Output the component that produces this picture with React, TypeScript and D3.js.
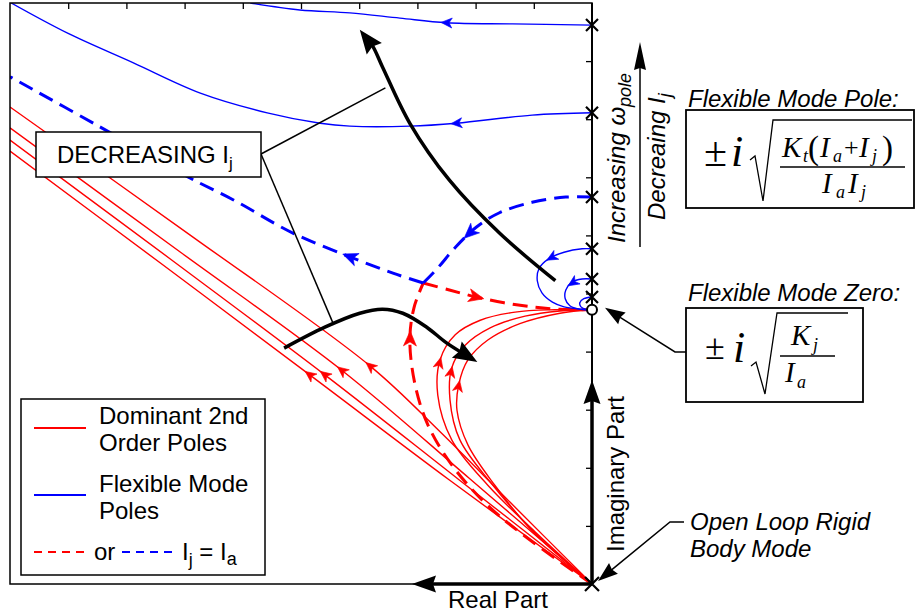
import React, { useEffect, useRef } from "react";
import * as d3 from "d3";

type Pt = [number, number];

// ---------- axes (real part: negative, imaginary part: positive) ----------
const realTicks = [-9, -8, -7, -6, -5, -4, -3, -2, -1];
const imagTicks = [1, 2, 3, 4, 5, 6, 7, 8, 9];

// open-loop poles on the imaginary axis (flexible mode for several Ij) and rigid body pole
const flexPoles = [9.62, 8.11, 6.66, 5.77, 5.25, 4.94];
const rigidPole = 0;
const flexZero = 4.72;

// ---------- dominant 2nd order pole branches (red) ----------
const domToAsymptote: Pt[][] = [
  [[0, 0], [-1.41, 1.41], [-2.61, 2.62], [-3.81, 3.75], [-6.91, 6.01], [-10, 8.21]],
  [[0, 0], [-2.11, 1.82], [-4.3, 3.68], [-7.07, 5.71], [-10, 7.85]],
  [[0, 0], [-2.28, 1.79], [-4.59, 3.6], [-7.24, 5.59], [-10, 7.64]],
  [[0, 0], [-2.45, 1.79], [-4.85, 3.6], [-7.41, 5.52], [-10, 7.45]],
];
const domToAsymptoteArrows: Pt[] = [[-3.81, 3.75], [-4.3, 3.68], [-4.59, 3.6], [-4.85, 3.6]];

const domToZero: Pt[][] = [
  [[0, 0], [-0.98, 0.9], [-1.79, 1.7], [-2.41, 2.48], [-2.65, 3.25], [-2.61, 3.86], [-2.35, 4.29], [-1.92, 4.54], [-1.32, 4.68], [-0.64, 4.72], [0, 4.72]],
  [[0, 0], [-1.03, 0.93], [-1.72, 1.72], [-2.27, 2.48], [-2.44, 3.17], [-2.41, 3.72], [-2.18, 4.11], [-1.75, 4.41], [-1.15, 4.61], [-0.55, 4.7], [0, 4.72]],
  [[0, 0], [-1.07, 0.96], [-1.67, 1.7], [-2.13, 2.39], [-2.32, 2.99], [-2.29, 3.43], [-2.13, 3.86], [-1.79, 4.2], [-1.24, 4.48], [-0.55, 4.66], [0, 4.72]],
];
const domToZeroArrows: Pt[] = [[-2.6, 3.8], [-2.4, 3.65], [-2.25, 3.4]];

// Ij = Ia case (dashed)
const domEqualUp: Pt[] = [[0, 0], [-1.07, 0.76], [-1.8, 1.36], [-2.41, 2.05], [-2.82, 2.74], [-3.04, 3.43], [-3.13, 4.2], [-3.06, 4.75], [-2.9, 5.18]];
const domEqualUpArrow: Pt = [-3.13, 4.23];
const domEqualToZero: Pt[] = [[-2.9, 5.18], [-2.45, 5.06], [-1.99, 4.94], [-1.51, 4.84], [-1.03, 4.77], [-0.57, 4.73], [0, 4.72]];
const domEqualToZeroArrow: Pt = [-1.99, 4.94];

// ---------- flexible mode pole branches (blue) ----------
const flexToAsymptote: Pt[][] = [
  [[0, 9.62], [-1.37, 9.64], [-2.5, 9.66], [-3.3, 9.74], [-4.16, 9.83], [-5.02, 9.88], [-5.87, 10.0]],
  [[0, 8.11], [-1.03, 8.07], [-2.33, 7.93], [-3.13, 7.88], [-4.16, 7.88], [-4.67, 7.93], [-5.58, 8.11], [-6.73, 8.45], [-7.88, 8.97], [-9.01, 9.48], [-9.98, 10.0]],
];
const flexToAsymptoteArrows: Pt[] = [[-2.5, 9.66], [-2.33, 7.93]];

const flexToZero: Pt[][] = [
  [[0, 5.77], [-0.17, 5.77], [-0.48, 5.71], [-0.74, 5.6], [-0.91, 5.43], [-0.94, 5.22], [-0.86, 5.01], [-0.68, 4.85], [-0.48, 4.77], [-0.17, 4.73], [-0.05, 4.72]],
  [[0, 5.25], [-0.17, 5.25], [-0.34, 5.2], [-0.45, 5.06], [-0.46, 4.91], [-0.38, 4.79], [-0.22, 4.73], [-0.05, 4.72]],
  [[0, 4.94], [-0.14, 4.91], [-0.21, 4.84], [-0.19, 4.77], [-0.09, 4.72]],
];
const flexToZeroArrows: (Pt | null)[] = [[-0.7, 5.63], [-0.34, 5.2], null];

const flexEqualArc: Pt[] = [[0, 6.66], [-0.45, 6.66], [-1.03, 6.57], [-1.59, 6.39], [-1.99, 6.14], [-2.36, 5.78], [-2.65, 5.44], [-2.9, 5.18]];
const flexEqualArcArrow: Pt = [-2.11, 6.05];
const flexEqualOut: Pt[] = [[-2.9, 5.18], [-3.42, 5.35], [-4.16, 5.63], [-5.14, 6.04], [-6.16, 6.61], [-6.95, 7.01], [-8.44, 7.86], [-10, 8.73]];
const flexEqualOutArrow: Pt = [-4.16, 5.63];

// ---------- annotation arrows (decreasing Ij) ----------
const trendLowArrow: Pt[] = [[-5.29, 4.06], [-4.59, 4.42], [-3.99, 4.66], [-3.6, 4.73], [-3.25, 4.66], [-2.84, 4.42], [-2.5, 4.15], [-1.97, 3.82]];
const trendHighArrow: Pt[] = [[-0.63, 5.22], [-1.59, 6.04], [-2.45, 6.95], [-3.13, 7.93], [-3.6, 8.9], [-3.78, 9.28], [-3.99, 9.54]];

const RED = "#ff0000";
const BLUE = "#0000ff";
const SANS = "'Liberation Sans', Arial, Helvetica, sans-serif";
const SERIF = "'Liberation Serif', 'Times New Roman', serif";

type Head = { len: number; hw: number; notch: number };
const headPath = (h: Head) => `M0,0L${-h.len},${-h.hw}L${-h.len + h.notch},0L${-h.len},${h.hw}Z`;

export default function App() {
  const ref = useRef<SVGSVGElement>(null);

  useEffect(() => {
    const svg = d3.select(ref.current as SVGSVGElement);
    svg.selectAll("*").remove();

    const x = d3.scaleLinear().domain([-10, 0]).range([10, 592]);
    const y = d3.scaleLinear().domain([0, 10]).range([584, 3]);
    const line = d3
      .line<Pt>()
      .x((d) => x(d[0]))
      .y((d) => y(d[1]))
      .curve(d3.curveCatmullRom.alpha(0.5));

    const g = svg.append("g");
    const plot = g.append("g");
    const clipId = "plotclip";
    svg
      .append("defs")
      .append("clipPath")
      .attr("id", clipId)
      .append("rect")
      .attr("x", x(-10))
      .attr("y", y(10))
      .attr("width", x(0) - x(-10))
      .attr("height", y(0) - y(10));
    plot.attr("clip-path", `url(#${clipId})`);

    const small: Head = { len: 11, hw: 5, notch: 3 };
    const mid: Head = { len: 15, hw: 6.5, notch: 4 };
    const big: Head = { len: 24, hw: 9.5, notch: 3 };

    const drawArrowOn = (node: SVGPathElement, target: Pt, color: string, head: Head) => {
      const L = node.getTotalLength();
      const tx = x(target[0]);
      const ty = y(target[1]);
      let best = 0;
      let bd = Infinity;
      for (let s = 0; s <= L; s += 0.5) {
        const q = node.getPointAtLength(s);
        const d = (q.x - tx) ** 2 + (q.y - ty) ** 2;
        if (d < bd) {
          bd = d;
          best = s;
        }
      }
      const s = Math.min(L, best + head.len / 2);
      const tip = node.getPointAtLength(s);
      const back = node.getPointAtLength(Math.max(0, s - head.len));
      const ang = (Math.atan2(tip.y - back.y, tip.x - back.x) * 180) / Math.PI;
      g.append("path")
        .attr("d", headPath(head))
        .attr("transform", `translate(${tip.x},${tip.y}) rotate(${ang})`)
        .attr("fill", color)
        .attr("stroke", color)
        .attr("stroke-width", 0.6)
        .attr("stroke-linejoin", "miter");
    };

    const curve = (pts: Pt[], color: string, width: number, dash: string | null, arrows: (Pt | null)[], head: Head) => {
      const p = plot
        .append("path")
        .attr("d", line(pts) as string)
        .attr("fill", "none")
        .attr("stroke", color)
        .attr("stroke-width", width);
      if (dash) p.attr("stroke-dasharray", dash);
      const node = p.node() as SVGPathElement;
      arrows.forEach((a) => {
        if (a) drawArrowOn(node, a, color, head);
      });
    };

    // ---- frame & ticks ----
    g.append("rect")
      .attr("x", x(-10))
      .attr("y", y(10))
      .attr("width", x(0) - x(-10))
      .attr("height", y(0) - y(10))
      .attr("fill", "none")
      .attr("stroke", "#000")
      .attr("stroke-width", 1.5);

    const topAxis = g
      .append("g")
      .attr("transform", `translate(0,${y(10)})`)
      .call(d3.axisBottom(x).tickValues(realTicks).tickSize(6).tickFormat(() => ""));
    topAxis.select(".domain").remove();
    topAxis.selectAll("line").attr("stroke-width", 1.3);

    const rightAxis = g
      .append("g")
      .attr("transform", `translate(${x(0)},0)`)
      .call(d3.axisLeft(y).tickValues(imagTicks).tickSize(6).tickFormat(() => ""));
    rightAxis.select(".domain").remove();
    rightAxis.selectAll("line").attr("stroke-width", 1.3);

    g.append("line")
      .attr("x1", x(0))
      .attr("x2", x(0))
      .attr("y1", y(10))
      .attr("y2", y(0))
      .attr("stroke", "#000")
      .attr("stroke-width", 2);

    // ---- root locus branches ----
    domToAsymptote.forEach((b, i) => curve(b, RED, 1.4, null, [domToAsymptoteArrows[i]], small));
    domToZero.forEach((b, i) => curve(b, RED, 1.4, null, [domToZeroArrows[i]], small));
    curve(domEqualUp, RED, 3, "15,8", [domEqualUpArrow], mid);
    curve(domEqualToZero, RED, 3, "15,8", [domEqualToZeroArrow], mid);

    flexToAsymptote.forEach((b, i) => curve(b, BLUE, 1.4, null, [flexToAsymptoteArrows[i]], small));
    flexToZero.forEach((b, i) => curve(b, BLUE, 1.4, null, [flexToZeroArrows[i]], small));
    curve(flexEqualArc, BLUE, 3, "15,8", [flexEqualArcArrow], mid);
    curve(flexEqualOut, BLUE, 3, "15,8", [flexEqualOutArrow], mid);

    // ---- thick black trend arrows ----
    const thick = (pts: Pt[]) => {
      const p = g
        .append("path")
        .attr("d", line(pts) as string)
        .attr("fill", "none")
        .attr("stroke", "#000")
        .attr("stroke-width", 3.5);
      const node = p.node() as SVGPathElement;
      const L = node.getTotalLength();
      p.attr("stroke-dasharray", `${L - big.len * 0.7},${L}`);
      const tip = node.getPointAtLength(L);
      const back = node.getPointAtLength(L - big.len);
      const ang = (Math.atan2(tip.y - back.y, tip.x - back.x) * 180) / Math.PI;
      g.append("path")
        .attr("d", headPath(big))
        .attr("transform", `translate(${tip.x},${tip.y}) rotate(${ang})`)
        .attr("fill", "#000");
    };
    thick(trendLowArrow);
    thick(trendHighArrow);

    // ---- pole / zero markers ----
    const cross = (cx: number, cy: number, r: number) => {
      g.append("path")
        .attr("d", `M${cx - r},${cy - r}L${cx + r},${cy + r}M${cx - r},${cy + r}L${cx + r},${cy - r}`)
        .attr("stroke", "#000")
        .attr("stroke-width", 2.2)
        .attr("fill", "none");
    };
    flexPoles.forEach((p) => cross(x(0), y(p), 6));
    cross(x(0), y(rigidPole), 7);
    g.append("circle")
      .attr("cx", x(0))
      .attr("cy", y(flexZero))
      .attr("r", 5)
      .attr("fill", "#fff")
      .attr("stroke", "#000")
      .attr("stroke-width", 2);

    // ---- axis arrows ----
    const headAt = (tx: number, ty: number, ang: number, h: Head) =>
      g.append("path")
        .attr("d", headPath(h))
        .attr("transform", `translate(${tx},${ty}) rotate(${ang})`)
        .attr("fill", "#000");
    const axisHead: Head = { len: 24, hw: 8.5, notch: 3 };
    g.append("line").attr("x1", x(0)).attr("x2", 432).attr("y1", y(0)).attr("y2", y(0)).attr("stroke", "#000").attr("stroke-width", 3.5);
    headAt(412, y(0), 180, axisHead);
    g.append("line").attr("x1", x(0)).attr("x2", x(0)).attr("y1", y(0)).attr("y2", 400).attr("stroke", "#000").attr("stroke-width", 3.5);
    headAt(x(0), 380, -90, axisHead);

    const txt = (s: string, tx: number, ty: number, opts: { size?: number; italic?: boolean; anchor?: string; rotate?: number; family?: string } = {}) => {
      const t = g
        .append("text")
        .attr("x", 0)
        .attr("y", 0)
        .attr("transform", `translate(${tx},${ty})${opts.rotate ? ` rotate(${opts.rotate})` : ""}`)
        .attr("font-family", opts.family ?? SANS)
        .attr("font-size", opts.size ?? 24)
        .attr("text-anchor", opts.anchor ?? "start")
        .attr("fill", "#000");
      if (opts.italic) t.attr("font-style", "italic");
      t.text(s);
      return t;
    };

    txt("Real Part", 498, 608, { anchor: "middle" });
    txt("Imaginary Part", 624, 474, { anchor: "middle", rotate: -90 });

    // Increasing ω_pole / Decreaing I_j
    const inc = txt("Increasing ω", 625, 243, { italic: true, rotate: -90 });
    inc.append("tspan").attr("dy", 6).attr("font-size", 18).text("pole");
    const dec = txt("Decreaing I", 665, 220, { italic: true, rotate: -90 });
    dec.append("tspan").attr("dy", 6).attr("font-size", 18).text("j");
    g.append("line").attr("x1", 640).attr("x2", 640).attr("y1", 247).attr("y2", 66).attr("stroke", "#000").attr("stroke-width", 1.5);
    headAt(640, 42, -90, { len: 28, hw: 6, notch: 2 });

    // ---- DECREASING Ij callout ----
    const boxL = { x: 36, y: 132, w: 225, h: 45 };
    g.append("line").attr("x1", boxL.x + boxL.w).attr("y1", 154).attr("x2", x(-3.55)).attr("y2", y(8.54)).attr("stroke", "#000").attr("stroke-width", 1.5);
    g.append("line").attr("x1", boxL.x + boxL.w).attr("y1", 154).attr("x2", x(-4.45)).attr("y2", y(4.49)).attr("stroke", "#000").attr("stroke-width", 1.5);
    g.append("rect").attr("x", boxL.x).attr("y", boxL.y).attr("width", boxL.w).attr("height", boxL.h).attr("fill", "#fff").attr("stroke", "#000").attr("stroke-width", 1.5);
    const dt = txt("DECREASING I", 57, 163);
    dt.append("tspan").attr("dy", 6).attr("font-size", 17).text("j");

    // ---- legend ----
    g.append("rect").attr("x", 21).attr("y", 399).attr("width", 244).attr("height", 176).attr("fill", "#fff").attr("stroke", "#000").attr("stroke-width", 1.5);
    g.append("line").attr("x1", 34).attr("x2", 86).attr("y1", 428).attr("y2", 428).attr("stroke", RED).attr("stroke-width", 2);
    txt("Dominant 2nd", 99, 424);
    txt("Order Poles", 99, 451);
    g.append("line").attr("x1", 34).attr("x2", 86).attr("y1", 495).attr("y2", 495).attr("stroke", BLUE).attr("stroke-width", 2);
    txt("Flexible Mode", 99, 492);
    txt("Poles", 99, 519);
    g.append("line").attr("x1", 34).attr("x2", 86).attr("y1", 552).attr("y2", 552).attr("stroke", RED).attr("stroke-width", 2).attr("stroke-dasharray", "8,6");
    txt("or", 94, 560);
    g.append("line").attr("x1", 122).attr("x2", 174).attr("y1", 552).attr("y2", 552).attr("stroke", BLUE).attr("stroke-width", 2).attr("stroke-dasharray", "8,6");
    const eq = txt("I", 182, 560);
    eq.append("tspan").attr("dy", 6).attr("font-size", 18).text("j");
    eq.append("tspan").attr("dy", -6).text(" = I");
    eq.append("tspan").attr("dy", 5).attr("font-size", 18).text("a");

    // ---- Flexible mode pole formula ----
    txt("Flexible Mode Pole:", 688, 107, { italic: true });
    g.append("rect").attr("x", 686).attr("y", 110).attr("width", 228).attr("height", 98).attr("fill", "#fff").attr("stroke", "#000").attr("stroke-width", 1.8);
    txt("±", 704, 166, { family: SERIF, size: 42 });
    txt("i", 731, 166, { family: SERIF, size: 44, italic: true });
    g.append("path").attr("d", "M750,160L755,156L763,201L773,120L912,120").attr("fill", "none").attr("stroke", "#000").attr("stroke-width", 1.3);
    g.append("line").attr("x1", 780).attr("x2", 905).attr("y1", 167).attr("y2", 167).attr("stroke", "#000").attr("stroke-width", 1.3);
    const sv = (s: string, tx: number, ty: number, size: number, italic: boolean) =>
      txt(s, tx, ty, { family: SERIF, size, italic });
    sv("K", 782, 157, 29, true);
    sv("t", 803, 162, 18, true);
    sv("(", 808, 159, 33, false);
    sv("I", 820, 157, 29, true);
    sv("a", 833, 162, 18, true);
    sv("+", 844, 156, 26, false);
    sv("I", 859, 157, 29, true);
    sv("j", 872, 162, 18, true);
    sv(")", 882, 159, 33, false);
    sv("I", 822, 193, 29, true);
    sv("a", 836, 198, 18, true);
    sv("I", 848, 193, 29, true);
    sv("j", 861, 198, 18, true);

    // ---- Flexible mode zero formula ----
    txt("Flexible Mode Zero:", 688, 301, { italic: true });
    g.append("rect").attr("x", 686).attr("y", 308).attr("width", 177).attr("height", 94).attr("fill", "#fff").attr("stroke", "#000").attr("stroke-width", 1.8);
    txt("±", 705, 359, { family: SERIF, size: 36 });
    txt("i", 733, 362, { family: SERIF, size: 44, italic: true });
    g.append("path").attr("d", "M751,366L756,362L765,394L777,313L848,313").attr("fill", "none").attr("stroke", "#000").attr("stroke-width", 1.3);
    g.append("line").attr("x1", 780).attr("x2", 835).attr("y1", 356).attr("y2", 356).attr("stroke", "#000").attr("stroke-width", 1.3);
    sv("K", 791, 345, 29, true);
    sv("j", 813, 351, 18, true);
    sv("I", 785, 382, 29, true);
    sv("a", 797, 388, 18, true);

    // leader arrows
    const leader = (pts: [number, number][], h: Head) => {
      const l = pts.slice();
      const [tx, ty] = l[l.length - 1];
      const [px, py] = l[l.length - 2];
      const ang = (Math.atan2(ty - py, tx - px) * 180) / Math.PI;
      const dlen = Math.hypot(tx - px, ty - py);
      const bx = tx - ((tx - px) / dlen) * h.len * 0.8;
      const by = ty - ((ty - py) / dlen) * h.len * 0.8;
      l[l.length - 1] = [bx, by];
      g.append("path").attr("d", d3.line()(l) as string).attr("fill", "none").attr("stroke", "#000").attr("stroke-width", 1.5);
      headAt(tx, ty, ang, h);
    };
    const leadHead: Head = { len: 20, hw: 7, notch: 2 };
    leader([[686, 352], [675, 352], [x(0) + 13, y(flexZero) - 2]], leadHead);

    // Open loop rigid body mode
    txt("Open Loop Rigid", 690, 530, { italic: true });
    txt("Body Mode", 690, 557, { italic: true });
    leader([[684, 522], [670, 522], [x(0) + 6, y(0) - 3]], leadHead);
  }, []);

  return (
    <svg
      ref={ref}
      width={916}
      height={616}
      style={{ position: "absolute", left: 0, top: 0, background: "#fff" }}
    />
  );
}
